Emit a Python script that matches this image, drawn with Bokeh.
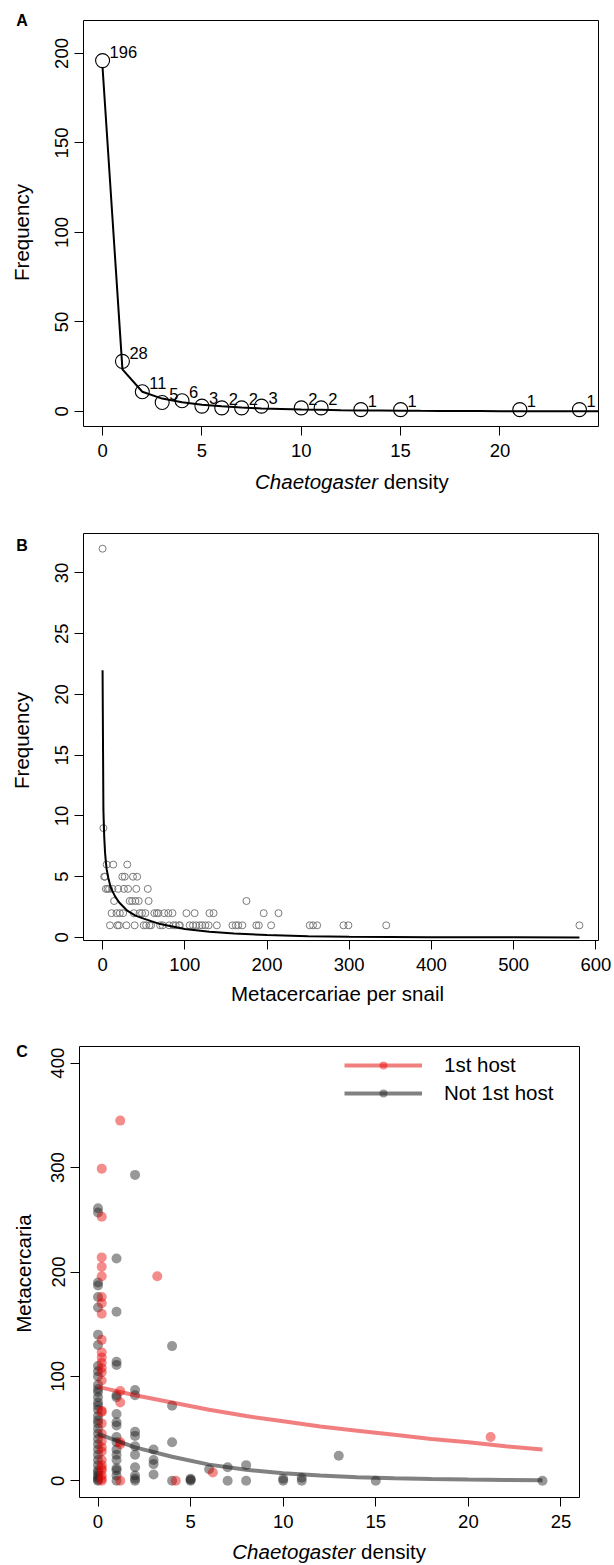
from bokeh.plotting import figure
from bokeh.models import Range1d, Label, ColumnDataSource, Legend, LegendItem
from bokeh.layouts import column, row
from bokeh.embed import file_html
from bokeh.resources import INLINE
from bokeh.core.properties import value
from bokeh.transform import dodge
import math

FONT = "Liberation Sans"

# ---------------- Panel A data ----------------
chaeto_density = [0, 1, 2, 3, 4, 5, 6, 7, 8, 10, 11, 13, 15, 21, 24]
chaeto_freq = [196, 28, 11, 5, 6, 3, 2, 2, 3, 2, 2, 1, 1, 1, 1]
chaeto_fit_x = [0, 1, 2, 3, 4, 5, 6, 7, 8, 9, 10, 11, 12, 13, 14, 15, 16, 17, 18, 19, 20, 21, 22, 23, 24, 25]
chaeto_fit_y = [192, 23.5, 11, 7.2, 5.1, 3.8, 2.9, 2.2, 1.7, 1.4, 1.1, 0.9, 0.7, 0.6, 0.5,
                0.4, 0.33, 0.28, 0.23, 0.19, 0.16, 0.14, 0.11, 0.1, 0.08, 0.07]
a_xticks = [0, 5, 10, 15, 20]
a_yticks = [0, 50, 100, 150, 200]

# ---------------- Panel B data ----------------
meta_value = [0, 1,
              5, 13, 30,
              2, 3, 24, 27, 37, 42,
              4, 6, 8, 12, 19, 26, 31, 41, 55,
              14, 33, 36, 40, 44, 56, 175,
              11, 17, 21, 25, 38, 45, 48, 52, 63, 66, 68, 75, 80, 85, 102, 112, 130, 135, 196, 214,
              9, 18, 20, 29, 39, 50, 53, 57, 59, 70, 73, 81, 86, 89, 93, 94, 106, 110, 114, 118,
              121, 125, 129, 139, 158, 162, 165, 170, 187, 190, 205, 252, 256, 261, 293, 299, 345, 580]
meta_freq = [32, 9,
             6, 6, 6,
             5, 5, 5, 5, 5, 5,
             4, 4, 4, 4, 4, 4, 4, 4, 4,
             3, 3, 3, 3, 3, 3, 3,
             2, 2, 2, 2, 2, 2, 2, 2, 2, 2, 2, 2, 2, 2, 2, 2, 2, 2, 2, 2,
             1, 1, 1, 1, 1, 1, 1, 1, 1, 1, 1, 1, 1, 1, 1, 1, 1, 1, 1, 1,
             1, 1, 1, 1, 1, 1, 1, 1, 1, 1, 1, 1, 1, 1, 1, 1, 1, 1]
meta_fit_x = [0, 1, 2, 3, 4, 5, 7, 10, 15, 20, 30, 40, 50, 70, 100, 130, 160, 200, 250, 300, 400, 500, 580]
meta_fit_y = [22, 10.5, 8.3, 7.0, 6.2, 5.6, 4.9, 4.1, 3.4, 2.9, 2.2, 1.8, 1.55, 1.1, 0.7, 0.48,
              0.32, 0.2, 0.11, 0.06, 0.02, 0.01, 0.005]
b_xticks = [0, 100, 200, 300, 400, 500, 600]
b_yticks = [0, 5, 10, 15, 20, 25, 30]

# ---------------- Panel C data ----------------
host_x = [0] * 29 + [1] * 6 + [3, 4, 6, 21]
host_y = [299, 253, 214, 205, 196, 176, 170, 160, 135, 123, 118, 113, 108, 104, 96, 67, 66, 55,
          45, 38, 32, 28, 20, 15, 12, 10, 5, 2, 0,
          345, 86, 75, 37, 35, 0,
          196, 0, 8, 42]
other_x = ([0] * 35 + [1] * 18 + [2] * 11 + [3] * 4 + [4] * 4 + [5] * 3 + [6] + [7] * 2 + [8] * 2
           + [10] * 2 + [11] * 2 + [13, 15, 24])
other_y = ([261, 257, 190, 187, 176, 166, 140, 130, 110, 105, 100, 92, 88, 85, 80, 75, 72, 68, 62,
            58, 55, 50, 45, 40, 35, 30, 25, 20, 15, 10, 8, 5, 3, 1, 0]
           + [213, 162, 114, 111, 82, 80, 64, 56, 53, 42, 37, 30, 25, 20, 12, 10, 5, 0]
           + [293, 87, 82, 47, 43, 33, 25, 13, 5, 2, 0]
           + [30, 20, 16, 6]
           + [129, 72, 37, 0]
           + [2, 1, 0]
           + [11]
           + [13, 0]
           + [15, 0]
           + [2, 0]
           + [3, 0]
           + [24, 0, 0])
fit_x = [0, 2, 4, 6, 8, 10, 12, 14, 16, 18, 20, 22, 24]
host_fit_y = [90, 82, 75, 68, 62, 57, 52, 48, 44, 40, 37, 33, 30]
other_fit_y = [45, 32, 23, 15.5, 10.5, 7.2, 5, 3.5, 2.5, 1.8, 1.2, 0.85, 0.6]
c_xticks = [0, 5, 10, 15, 20, 25]
c_yticks = [0, 100, 200, 300, 400]
series_names = ["1st host", "Not 1st host"]

STRIP_W = 34
TITLE_SIZE = "20.5px"
SPACE_W = 5.7  # width of a space at the title size
BOTTOM = 41     # space under each frame for ticks and tick labels


def core_fig(width, height, left, right, top, bottom, xr, yr, xticks, yticks):
    p = figure(width=width, height=height, x_range=Range1d(*xr), y_range=Range1d(*yr),
               min_border_left=left, min_border_right=right, min_border_top=top,
               min_border_bottom=bottom, toolbar_location=None, output_backend="svg",
               title=None)
    p.xgrid.visible = False
    p.ygrid.visible = False
    p.outline_line_color = "black"
    p.outline_line_width = 1
    p.outline_line_alpha = 1
    p.background_fill_color = "white"
    p.border_fill_color = "white"
    p.xaxis.ticker = xticks
    p.yaxis.ticker = yticks
    for ax in (p.xaxis[0], p.yaxis[0]):
        ax.axis_line_color = None
        ax.major_tick_out = 9
        ax.major_tick_in = 0
        ax.major_tick_line_color = "black"
        ax.minor_tick_line_color = None
        ax.major_label_text_font = FONT
        ax.major_label_text_font_size = "18.5px"
        ax.major_label_text_color = "black"
    p.xaxis.major_label_standoff = 8
    p.yaxis.major_label_standoff = 6
    p.yaxis.major_label_orientation = "parallel"
    return p


def strip(width, height, left=0, right=0):
    s = figure(width=width, height=height, x_range=Range1d(0, 1), y_range=Range1d(0, 1),
               min_border_left=left, min_border_right=right, min_border_top=0,
               min_border_bottom=0, toolbar_location=None, output_backend="svg", title=None,
               x_axis_location=None, y_axis_location=None)
    s.outline_line_color = None
    s.background_fill_color = "white"
    s.border_fill_color = "white"
    s.grid.visible = False
    return s


def lab(p, text, x, y, angle=0.0, align="left", size=TITLE_SIZE, style="normal"):
    p.add_layout(Label(x=x, y=y, x_units="screen", y_units="screen", text=text, angle=angle,
                       text_align=align, text_baseline="middle", text_font=FONT,
                       text_font_size=size, text_font_style=style, text_color="black"))


def italic_title(s, x_split, y):
    lab(s, "Chaetogaster", x_split, y, align="right", style="italic")
    lab(s, "density", x_split + SPACE_W, y, align="left")


# ---------------- Panel A (page rows 0-520) ----------------
pa = core_fig(580, 426 + BOTTOM, 49, 16, 20, BOTTOM, (-0.96, 24.96), (-8.4, 218.4), a_xticks, a_yticks)
pa.line(chaeto_fit_x, chaeto_fit_y, line_color="black", line_width=2)
src_a = ColumnDataSource(dict(x=chaeto_density, y=chaeto_freq, t=[str(v) for v in chaeto_freq]))
pa.scatter("x", "y", source=src_a, size=14, marker="circle", fill_color=None,
           line_color="black", line_width=1.1)
pa.text("x", "y", text="t", source=src_a, x_offset=7, y_offset=-8.5, text_font=value(FONT),
        text_font_size="16.5px", text_baseline="middle", text_align="left", text_color="black")
la = strip(STRIP_W, 520)
lab(la, "A", 15.7, 499.6, size="16px", style="bold")
lab(la, "Frequency", 20.8, 288, angle=math.pi / 2, align="center")
ba = strip(580, 520 - 426 - BOTTOM, left=49, right=16)
italic_title(ba, 294.6, 39.2)
panel_a = row(la, column(pa, ba, spacing=0), spacing=0)

# ---------------- Panel B (page rows 520-1030) ----------------
pb = core_fig(580, 420 + BOTTOM, 49, 16, 13, BOTTOM, (-23.2, 603.2), (-0.25, 33.25), b_xticks, b_yticks)
pb.scatter(meta_value, meta_freq, size=7, marker="circle", fill_color=None,
           line_color="#7a7a7a", line_width=1)
pb.line(meta_fit_x, meta_fit_y, line_color="black", line_width=2)
lb = strip(STRIP_W, 510)
lab(lb, "B", 15.7, 484.6, size="16px", style="bold")
lab(lb, "Frequency", 20.8, 290, angle=math.pi / 2, align="center")
bb = strip(580, 510 - 420 - BOTTOM, left=49, right=16)
lab(bb, "Metacercariae per snail", 254, 37.2, align="center")
panel_b = row(lb, column(pb, bb, spacing=0), spacing=0)

# ---------------- Panel C (page rows 1030-1565) ----------------
pc = core_fig(580, 467 + BOTTOM, 45, 35, 16, BOTTOM, (-1, 26), (-16, 416), c_xticks, c_yticks)
RED = "#e60000"
GREY = "#1a1a1a"
src_host = ColumnDataSource(dict(x=host_x, y=host_y))
src_other = ColumnDataSource(dict(x=other_x, y=other_y))
r_other = pc.scatter("x", "y", source=src_other, size=10, marker="circle", fill_color=GREY,
                     fill_alpha=0.45, line_color=None)
r_host = pc.scatter(dodge("x", 0.2, range=pc.x_range), "y", source=src_host, size=10,
                    marker="circle", fill_color=RED, fill_alpha=0.45, line_color=None)
l_host = pc.line(fit_x, host_fit_y, line_color=RED, line_alpha=0.5, line_width=4)
l_other = pc.line(fit_x, other_fit_y, line_color=GREY, line_alpha=0.55, line_width=4)

legend = Legend(items=[LegendItem(label=series_names[0], renderers=[l_host, r_host]),
                       LegendItem(label=series_names[1], renderers=[l_other, r_other])],
                location=(265, 392), glyph_width=78, glyph_height=20, label_height=20,
                label_standoff=22, spacing=4, padding=0, margin=0,
                border_line_color=None, background_fill_alpha=0,
                label_text_font=FONT, label_text_font_size=TITLE_SIZE, label_text_color="black")
pc.add_layout(legend)
lc = strip(STRIP_W, 535)
lab(lc, "C", 15.7, 513.6, size="16px", style="bold")
lab(lc, "Metacercaria", 23.2, 292, angle=math.pi / 2, align="center")
bc = strip(580, 535 - 467 - BOTTOM, left=45, right=35)
italic_title(bc, 275.9, 13.7)
panel_c = row(lc, column(pc, bc, spacing=0), spacing=0)

layout = column(panel_a, panel_b, panel_c, spacing=0)
open("out.html", "w").write(file_html(layout, INLINE))
